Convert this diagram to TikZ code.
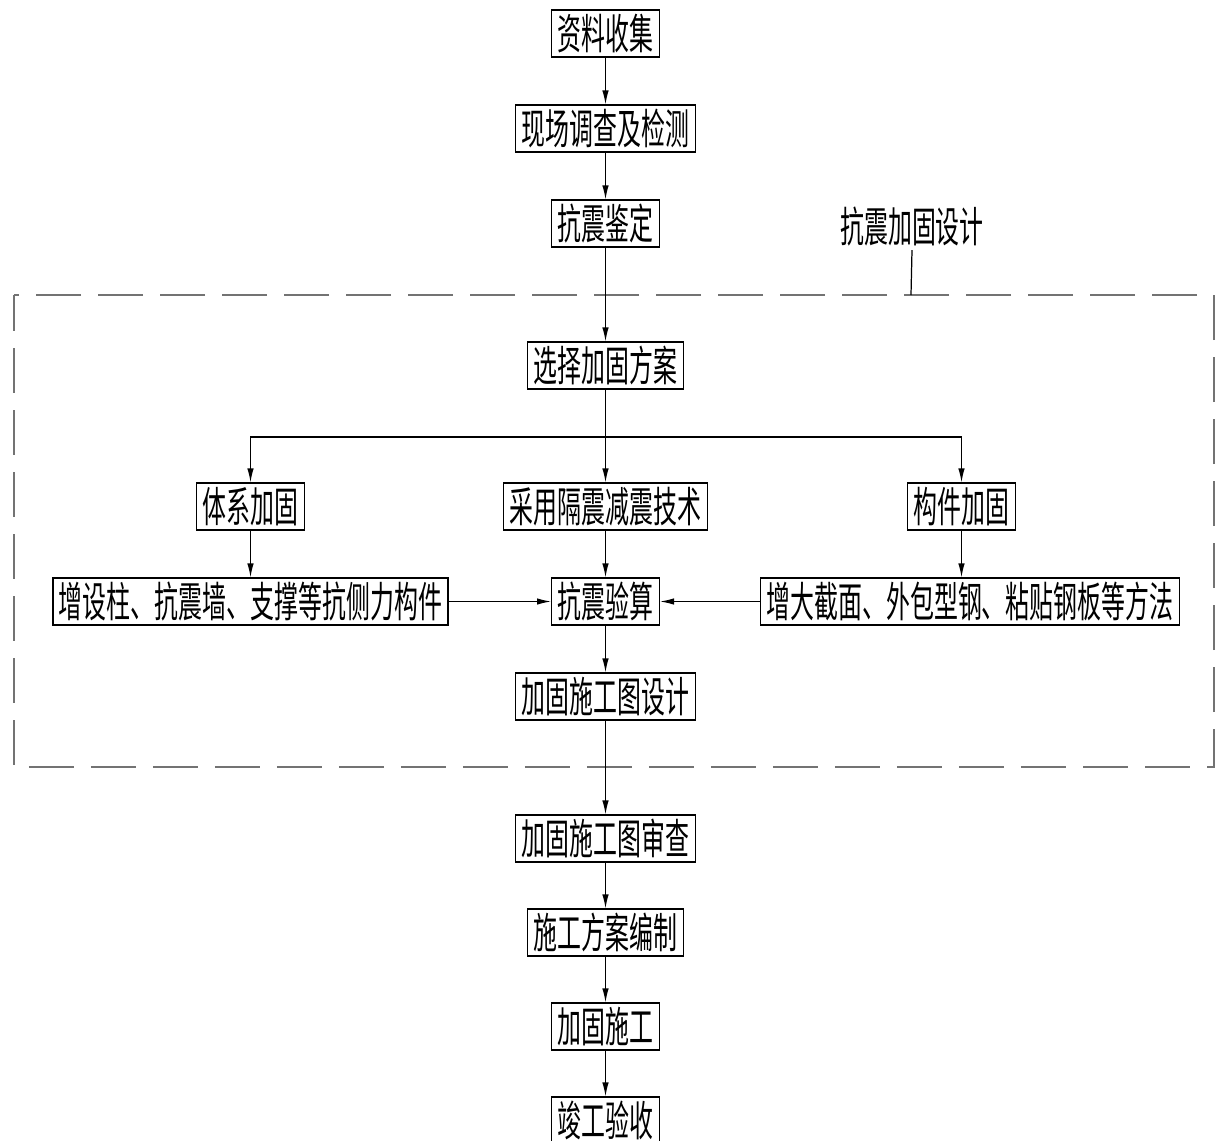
\documentclass[tikz,border=0pt]{standalone}
\usepackage{fontspec}
\newfontfamily\cjk[FakeStretch=0.57]{Noto Sans CJK SC}
\usetikzlibrary{arrows.meta,positioning}

\begin{document}
\begin{tikzpicture}[->,>={Latex[length=0.28cm,width=0.13cm]},node distance=1.9cm,line width=0.7pt,
  box/.style={rectangle,draw,minimum height=0.94cm,inner xsep=0.12cm,inner ysep=0pt,font=\cjk\fontsize{23.9pt}{24pt}\selectfont},
  lbl/.style={rectangle,minimum height=0.94cm,inner xsep=0.12cm,inner ysep=0pt,font=\cjk\fontsize{23.9pt}{24pt}\selectfont},
  frame/.style={-,draw=black!55,line width=0.9pt,dash pattern=on 0.9cm off 0.34cm,dash phase=0.18cm}]

            \useasboundingbox (0,0) rectangle (24.36,-22.8);

            \node[box] (zl) at (12.11,-0.67) {资料收集};
            \node[box] (xc) [below of = zl] {现场调查及检测};
            \node[box] (kj) [below of = xc] {抗震鉴定};
            \node[box] (xz) [below of = kj, node distance=2.84cm] {选择加固方案};
            \node[box] (cy) [below of = xz, node distance=2.82cm] {采用隔震减震技术};
            \node[box] (tx) [left of = cy, node distance=7.1cm] {体系加固};
            \node[box] (gj) [right of = cy, node distance=7.12cm] {构件加固};
            \node[box] (ys) [below of = cy] {抗震验算};
            \node[box] (zs) [below of = tx] {增设柱、抗震墙、支撑等抗侧力构件};
            \node[box] (zd) [right of = ys, node distance=7.29cm] {增大截面、外包型钢、粘贴钢板等方法};
            \node[box] (sj) [below of = ys] {加固施工图设计};
            \node[box] (sc) [below of = sj, node distance=2.84cm] {加固施工图审查};
            \node[box] (bz) [below of = sc, node distance=1.88cm] {施工方案编制};
            \node[box] (sg) [below of = bz, node distance=1.88cm] {加固施工};
            \node[box] (jg) [below of = sg, node distance=1.88cm] {竣工验收};

            % dashed frame and its label
            \draw[frame] (0.28,-5.9) rectangle (24.28,-15.34);
            \node[lbl] (lb) at (18.24,-4.52) {抗震加固设计};
            \coordinate (fr) at (18.22,-5.9);
            \draw[-] (lb.south) -- (fr);

            \coordinate (br) at (12.11,-8.74);

            \draw (zl) -- (xc);
            \draw (xc) -- (kj);
            \draw (kj) -- (xz);
            \draw[-] (xz) -- (br);
            \draw (br) -| (tx);
            \draw (br) -| (gj);
            \draw (xz) -- (cy);
            \draw (tx) -- (zs);
            \draw (gj) -- (gj |- zd.north);
            \draw (cy) -- (ys);
            \draw (zs) -- (ys);
            \draw (zd) -- (ys);
            \draw (ys) -- (sj);
            \draw (sj) -- (sc);
            \draw (sc) -- (bz);
            \draw (bz) -- (sg);
            \draw (sg) -- (jg);

            ;
        \end{tikzpicture}
\end{document}
